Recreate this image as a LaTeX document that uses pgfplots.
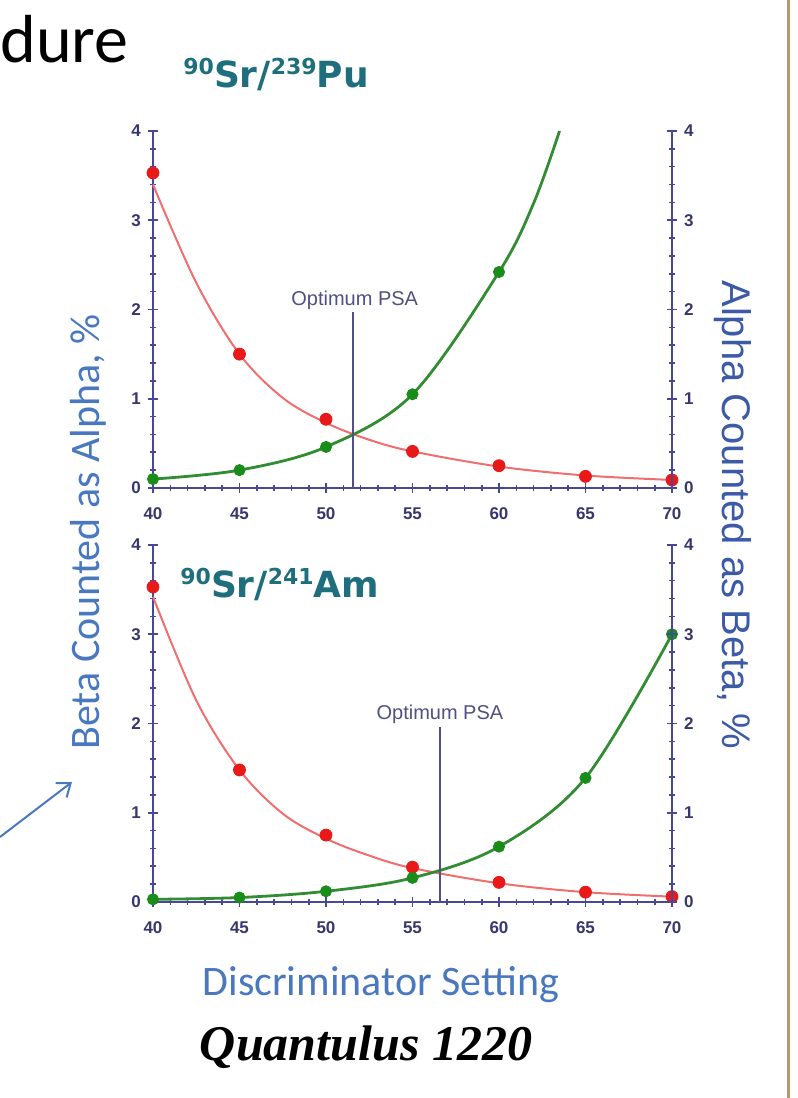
\documentclass[border=0pt]{standalone}
\usepackage{pgfplots}
\pgfplotsset{compat=1.18}
\usepackage{pgfplotstable}
\usepackage{fontspec}
\setmainfont{Liberation Sans}
\newfontfamily\carlito{Carlito}
\newfontfamily\dejavu{DejaVu Sans}
\newfontfamily\timesf{Liberation Serif}
\usetikzlibrary{arrows.meta}

\definecolor{axnavy}{RGB}{72,72,150}
\definecolor{ticknavy}{RGB}{55,55,110}
\definecolor{redline}{RGB}{240,110,110}
\definecolor{redmark}{RGB}{232,25,25}
\definecolor{greenline}{RGB}{50,140,50}
\definecolor{greenmark}{RGB}{25,140,25}
\definecolor{titleteal}{RGB}{30,110,125}
\definecolor{labblue}{RGB}{74,120,190}
\definecolor{labblue2}{RGB}{60,90,165}
\definecolor{psa}{RGB}{80,80,130}
\definecolor{border}{RGB}{190,150,110}

% measured points
\pgfplotstableread{
x y
40 3.53
45 1.50
50 0.77
55 0.41
60 0.25
65 0.13
70 0.09
}\topred
\pgfplotstableread{
x y
40 0.10
45 0.20
50 0.46
55 1.05
60 2.42
}\topgreen
\pgfplotstableread{
x y
40 3.53
45 1.48
50 0.75
55 0.39
60 0.22
65 0.11
70 0.06
}\botred
\pgfplotstableread{
x y
40 0.03
45 0.05
50 0.12
55 0.27
60 0.62
65 1.39
70 3.00
}\botgreen

% fitted curves
\pgfplotstableread{
x y
40 3.40
42.5 2.30
45 1.50
47.5 1.01
50 0.73
52.5 0.54
55 0.41
60 0.24
65 0.14
70 0.09
}\topredcurve
\pgfplotstableread{
x y
40 0.10
45 0.20
50 0.46
55 1.05
60 2.42
62 3.19
63.5 4.00
}\topgreencurve
\pgfplotstableread{
x y
40 3.42
42.5 2.26
45 1.48
47.5 0.99
50 0.71
52.5 0.52
55 0.38
60 0.21
65 0.11
70 0.06
}\botredcurve

\pgfplotsset{
  panel/.style={
    scale only axis, width=259.5pt, height=178.5pt,
    xmin=40, xmax=70, ymin=0, ymax=4,
    xtick={40,45,...,70}, ytick={0,1,2,3,4},
    minor x tick num=4, minor y tick num=4,
    tick align=center, major tick length=5pt, minor tick length=3pt,
    tick style={axnavy, line width=0.8pt},
    axis line style={-, axnavy, line width=1.4pt},
    tick label style={font=\fontsize{8.5}{9}\selectfont\bfseries, text=ticknavy},
    xticklabel style={yshift=-4pt},
    clip=false,
    /pgf/number format/assume math mode=true,
  },
  leftpanel/.style={panel, axis x line*=bottom, axis y line*=left},
  rightpanel/.style={panel, axis x line=none, axis y line*=right, yticklabel pos=right},
  redcurve/.style={redline, line width=1pt, smooth, tension=0.55, no marks},
  greencurve/.style={greenline, line width=1.4pt, smooth, tension=0.55, no marks},
  redpts/.style={only marks, mark=*, mark size=3pt, mark options={draw=redmark, fill=redmark}},
  greenpts/.style={only marks, mark=*, mark size=2.8pt, mark options={draw=greenmark, fill=greenmark}},
}

\begin{document}
\begin{tikzpicture}
\path[use as bounding box] (0,0) rectangle (399pt,549pt);

% top panel
\begin{axis}[leftpanel, at={(76.5pt,305pt)}, anchor=south west]
\addplot[redcurve] table {\topredcurve};
\addplot[greencurve] table {\topgreencurve};
\addplot[psa, line width=1pt] coordinates {(51.56,0) (51.56,1.97)};
\addplot[redpts] table {\topred};
\addplot[greenpts] table {\topgreen};
\node[anchor=base west, inner sep=0, text=psa, font=\fontsize{10}{10}\selectfont] at (axis cs:51.56,2.05) [xshift=-31pt] {Optimum PSA};
\end{axis}
\begin{axis}[rightpanel, at={(76.5pt,305pt)}, anchor=south west]
\end{axis}

% bottom panel
\begin{axis}[leftpanel, at={(76.5pt,98pt)}, anchor=south west]
\addplot[redcurve] table {\botredcurve};
\addplot[greencurve] table {\botgreen};
\addplot[psa, line width=1pt] coordinates {(56.6,0) (56.6,1.96)};
\addplot[redpts] table {\botred};
\addplot[greenpts] table {\botgreen};
\node[anchor=base west, inner sep=0, text=psa, font=\fontsize{10}{10}\selectfont] at (axis cs:56.6,2.04) [xshift=-32pt] {Optimum PSA};
\end{axis}
\begin{axis}[rightpanel, at={(76.5pt,98pt)}, anchor=south west]
\end{axis}

% titles
\node[anchor=base west, inner sep=0, font=\carlito\fontsize{34}{34}\selectfont] at (0pt,517.5pt) {dure};
\node[anchor=base west, inner sep=0, text=titleteal, font=\dejavu\bfseries\fontsize{18}{18}\selectfont] at (91.5pt,505pt)
  {\raisebox{6.5pt}{\fontsize{11}{11}\selectfont 90}Sr/\raisebox{6.5pt}{\fontsize{11}{11}\selectfont 239}Pu};
\node[anchor=base west, inner sep=0, text=titleteal, font=\dejavu\bfseries\fontsize{18}{18}\selectfont] at (90pt,250pt)
  {\raisebox{6.5pt}{\fontsize{11}{11}\selectfont 90}Sr/\raisebox{6.5pt}{\fontsize{11}{11}\selectfont 241}Am};

% axis labels
\node[rotate=90, inner sep=0, text=labblue, font=\carlito\fontsize{21}{21}\selectfont] at (44pt,283pt) {Beta Counted as Alpha, \%};
\node[rotate=-90, inner sep=0, text=labblue2, font=\fontsize{20}{20}\selectfont] at (366.5pt,291.5pt) {Alpha Counted as Beta, \%};
\node[inner sep=0, text=labblue, font=\carlito\fontsize{21}{21}\selectfont] at (190.5pt,56.5pt) {Discriminator Setting};
\node[inner sep=0, font=\timesf\bfseries\itshape\fontsize{25}{25}\selectfont] at (183pt,25.5pt) {Quantulus 1220};

% arrow and border
\draw[labblue, line width=1pt, -{Straight Barb[length=6pt,width=9pt]}] (0pt,130.5pt) -- (36pt,158pt);
\draw[border, line width=1.5pt] (394pt,0pt) -- (394pt,549pt);
\end{tikzpicture}
\end{document}
